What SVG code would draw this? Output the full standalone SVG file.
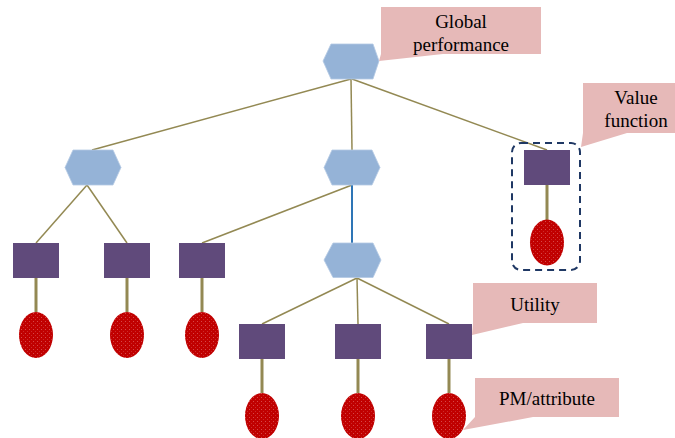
<svg xmlns="http://www.w3.org/2000/svg" width="675" height="438" viewBox="0 0 675 438">
<style>
.hex{fill:#95B3D7;stroke:#B4C9E3;stroke-width:0.8}
.sq{fill:#604A7B}
.el{fill:url(#dots)}
.thin{stroke:#938953;stroke-width:1.5;fill:none}
.thick{stroke:#938953;stroke-width:3;fill:none}
.blue{stroke:#2E75B6;stroke-width:2;fill:none}
.call{fill:#E6B9B8}
.lbl{font-size:19px;fill:#000;text-anchor:middle}
</style>
<defs>
<pattern id="dots" width="4" height="4" patternUnits="userSpaceOnUse">
<rect width="4" height="4" fill="#C00000"/>
<rect x="1" y="1" width="1" height="1" fill="#D64848"/>
<rect x="3" y="3" width="1" height="1" fill="#CC2A2A"/>
</pattern>
</defs>
<g id="connectors">
<line class="thin" x1="351" y1="79" x2="92" y2="150"/>
<line class="thin" x1="351" y1="79" x2="352" y2="150"/>
<line class="thin" x1="352" y1="79" x2="547" y2="150"/>
<line class="thin" x1="87" y1="185" x2="36" y2="243"/>
<line class="thin" x1="87" y1="185" x2="127" y2="243"/>
<line class="thin" x1="352" y1="185" x2="202" y2="243"/>
<line class="blue" x1="352" y1="185" x2="352" y2="243"/>
<line class="thin" x1="357" y1="278" x2="262" y2="324"/>
<line class="thin" x1="357" y1="278" x2="358" y2="324"/>
<line class="thin" x1="357" y1="278" x2="449" y2="324"/>
<line class="thick" x1="36" y1="278" x2="36" y2="312"/>
<line class="thick" x1="127" y1="278" x2="127" y2="312"/>
<line class="thick" x1="202" y1="278" x2="202" y2="312"/>
<line class="thick" x1="262" y1="359" x2="262" y2="393"/>
<line class="thick" x1="358" y1="359" x2="358" y2="393"/>
<line class="thick" x1="449" y1="359" x2="449" y2="393"/>
<line class="thick" x1="547" y1="185" x2="547" y2="220"/>
</g>
<g id="hex-top"><polygon class="hex" points="323,61 331,44 373,44 379,61 373,79 331,79"/></g>
<g id="hex-left"><polygon class="hex" points="65,167.5 73,150 113,150 121,167.5 113,185 73,185"/></g>
<g id="hex-mid"><polygon class="hex" points="324,167.5 332,150 372,150 380,167.5 372,185 332,185"/></g>
<g id="hex-low"><polygon class="hex" points="324,260 333,243 373,243 381,260 373,277.5 333,277.5"/></g>
<g id="sq1"><rect class="sq" x="13" y="243" width="46" height="35"/></g>
<g id="sq2"><rect class="sq" x="104" y="243" width="46" height="35"/></g>
<g id="sq3"><rect class="sq" x="179" y="243" width="46" height="35"/></g>
<g id="sq4"><rect class="sq" x="239" y="324" width="46" height="35"/></g>
<g id="sq5"><rect class="sq" x="335" y="324" width="46" height="35"/></g>
<g id="sq6"><rect class="sq" x="426" y="324" width="46" height="35"/></g>
<g id="sq-value"><rect class="sq" x="524" y="150" width="46" height="35"/></g>
<g id="el1"><ellipse class="el" cx="36" cy="335" rx="17" ry="23"/></g>
<g id="el2"><ellipse class="el" cx="127" cy="335" rx="17" ry="23"/></g>
<g id="el3"><ellipse class="el" cx="202" cy="335" rx="17" ry="23"/></g>
<g id="el4"><ellipse class="el" cx="262" cy="416" rx="17" ry="23"/></g>
<g id="el5"><ellipse class="el" cx="358" cy="416" rx="17" ry="23"/></g>
<g id="el6"><ellipse class="el" cx="449" cy="416" rx="17" ry="23"/></g>
<g id="el-value"><ellipse class="el" cx="547" cy="242.5" rx="17" ry="23"/></g>
<g id="value-group"><rect x="512" y="143" width="68" height="127" rx="9" fill="none" stroke="#1F3864" stroke-width="2" stroke-dasharray="7,5"/></g>
<g id="callout-global">
<path class="call" d="M381,7 H541 V54 H443 L379,61 L381,54 Z"/>
<text class="lbl" font-family="'Liberation Serif', 'DejaVu Serif', serif" x="461" y="28">Global</text>
<text class="lbl" font-family="'Liberation Serif', 'DejaVu Serif', serif" x="461" y="51">performance</text>
</g>
<g id="callout-value">
<path class="call" d="M583,83 H690 V133 H627 L581,147 L583,133 Z"/>
<text class="lbl" font-family="'Liberation Serif', 'DejaVu Serif', serif" x="636" y="104">Value</text>
<text class="lbl" font-family="'Liberation Serif', 'DejaVu Serif', serif" x="636" y="127">function</text>
</g>
<g id="callout-utility">
<path class="call" d="M473,283 H597 V323 H523 L472,335 L473,323 Z"/>
<text class="lbl" font-family="'Liberation Serif', 'DejaVu Serif', serif" x="535" y="311">Utility</text>
</g>
<g id="callout-pm">
<path class="call" d="M475,378 H619 V417 H533 L463,430 L475,417 Z"/>
<text class="lbl" font-family="'Liberation Serif', 'DejaVu Serif', serif" x="547" y="405">PM/attribute</text>
</g>
</svg>
